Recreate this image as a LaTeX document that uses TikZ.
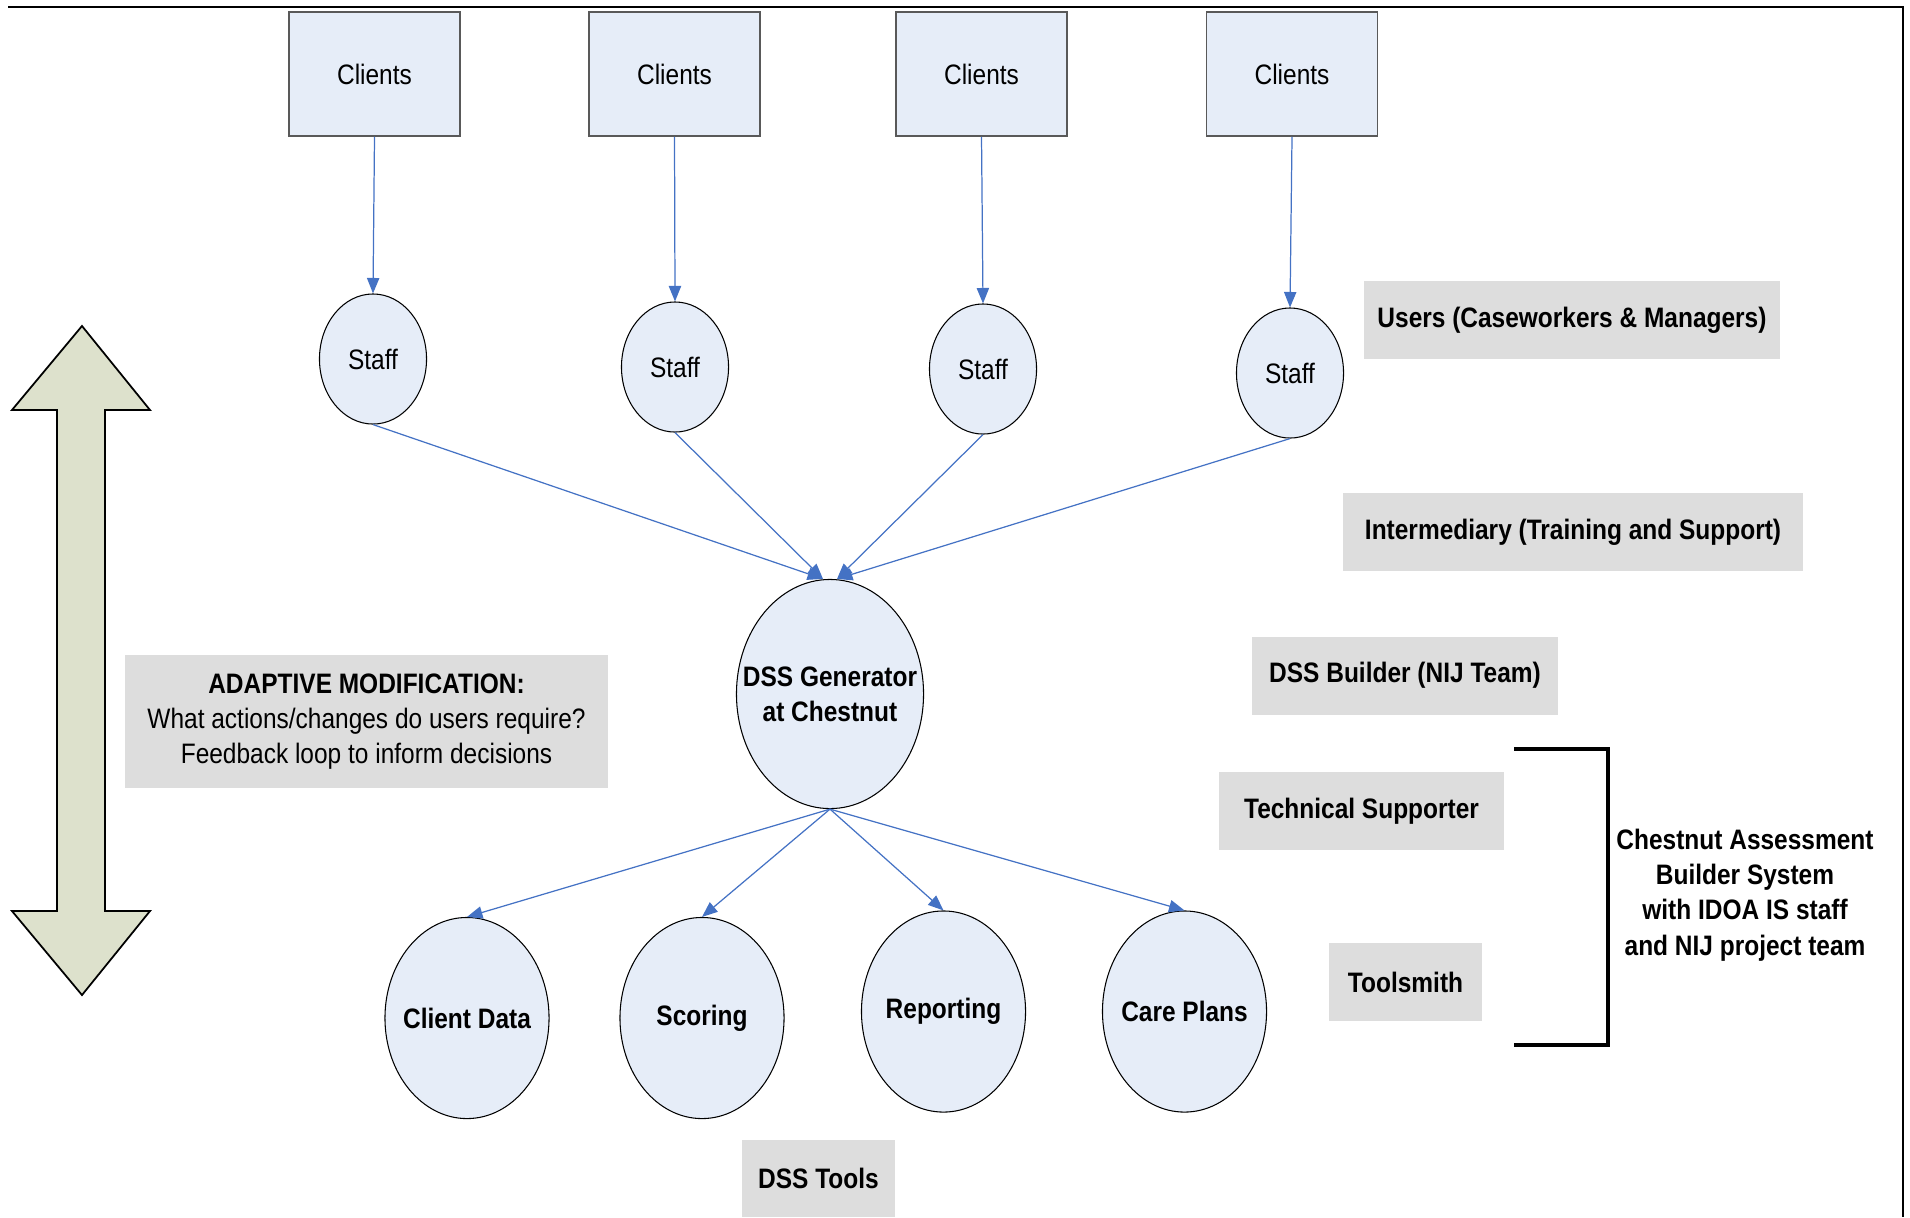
\documentclass[tikz,border=0pt]{standalone}
\usepackage{fontspec}
\setmainfont{Liberation Sans}[FakeStretch=0.87]
\usepackage{tikz}
\usetikzlibrary{arrows.meta, shapes.geometric, positioning}
\definecolor{myblue}{RGB}{68, 114, 196}
\definecolor{mylight}{RGB}{230, 237, 248}
\definecolor{mygray1}{RGB}{221, 221, 221}
\definecolor{myolive}{RGB}{221, 225, 204}

\begin{document}
\begin{tikzpicture}[
    x = 0.01cm, y = -0.01cm,
    font = \fontsize{8}{10}\selectfont,
    box/.style = {rectangle, draw = black!65, fill = mylight, line width = 0.4pt, minimum width = 1.71cm, minimum height = 1.24cm},
    staff/.style = {ellipse, draw, fill = mylight, line width = 0.3pt, inner sep = 0pt, minimum width = 1.07cm, minimum height = 1.30cm},
    tool/.style = {ellipse, draw, fill = mylight, line width = 0.3pt, inner xsep = -0.25cm, inner ysep = 0pt, minimum width = 1.64cm, minimum height = 2.01cm, font = \fontsize{8}{10}\selectfont\bfseries},
    role/.style = {rectangle, fill = mygray1, inner sep = 0pt, minimum height = 0.78cm, font = \fontsize{8}{10}\selectfont\bfseries},
    d1/.style = {myblue, line width = 0.35pt, -{Triangle[length = 4.4pt, width = 3.5pt]}}
]
\useasboundingbox (0,0) rectangle (1910,1217);

% frame
\draw[line width = 0.6pt] (8,7) -- (1903,7) -- (1903,1217);

% clients and staff
\node[box] (c1) at (374.5,74) {Clients};
\node[box] (c2) at (674.5,74) {Clients};
\node[box] (c3) at (981.5,74) {Clients};
\node[box] (c4) at (1292,74) {Clients};
\node[staff] (s1) at (373,359) {Staff};
\node[staff] (s2) at (675,367) {Staff};
\node[staff] (s3) at (983,369) {Staff};
\node[staff] (s4) at (1290,373) {Staff};

% generator and tools
\node[tool, minimum width = 1.87cm, minimum height = 2.29cm, align = center] (gen) at (830,694) {DSS Generator\\at Chestnut};
\node[tool] (t1) at (467,1018) {Client Data};
\node[tool] (t2) at (702,1018) {Scoring};
\node[tool] (t3) at (943.5,1011.5) {Reporting};
\node[tool] (t4) at (1184.5,1011.5) {Care Plans};

\draw[d1] (c1.south) -- (s1.north);
\draw[d1] (c2.south) -- (s2.north);
\draw[d1] (c3.south) -- (s3.north);
\draw[d1] (c4.south) -- (s4.north);
\draw[d1] (s1.south) -- ([xshift = -0.07cm]gen.north);
\draw[d1] (s2.south) -- ([xshift = -0.07cm]gen.north);
\draw[d1] (s3.south) -- ([xshift = 0.07cm]gen.north);
\draw[d1] (s4.south) -- ([xshift = 0.07cm]gen.north);
\draw[d1] (gen.south) -- (t1.north);
\draw[d1] (gen.south) -- (t2.north);
\draw[d1] (gen.south) -- (t3.north);
\draw[d1] (gen.south) -- (t4.north);

% roles
\node[role, minimum width = 4.16cm] (users) at (1572,320) {Users (Caseworkers \& Managers)};
\node[role, minimum width = 4.60cm] (inter) at (1573,532) {Intermediary (Training and Support)};
\node[role, minimum width = 3.06cm] (builder) at (1405,675.5) {DSS Builder (NIJ Team)};
\node[role, minimum width = 2.85cm] (tech) at (1361.5,811) {Technical Supporter};
\node[role, minimum width = 1.53cm] (smith) at (1405.5,982) {Toolsmith};
\node[role, minimum width = 1.53cm, minimum height = 0.77cm] (dsstools) at (818.5,1178) {DSS Tools};

% bracket
\draw[line width = 0.9pt] (1514,749) -- (1608,749) -- (1608,1045) -- (1514,1045);
\node[align = center, font = \fontsize{8}{10}\selectfont\bfseries] (chestnut) at (1745,895) {Chestnut Assessment\\Builder System\\with IDOA IS staff\\and NIJ project team};

% feedback
\draw[fill = myolive, line width = 0.5pt] (82,326) -- (150,410) -- (105,410) -- (105,911) -- (150,911) -- (82,995) -- (12,911) -- (57,911) -- (57,410) -- (12,410) -- cycle;
\node[rectangle, fill = mygray1, minimum width = 4.83cm, minimum height = 1.33cm, align = center] (adapt) at (366.5,721.5) {\textbf{ADAPTIVE MODIFICATION:}\\What actions/changes do users require?\\Feedback loop to inform decisions};
\end{tikzpicture}
\end{document}
